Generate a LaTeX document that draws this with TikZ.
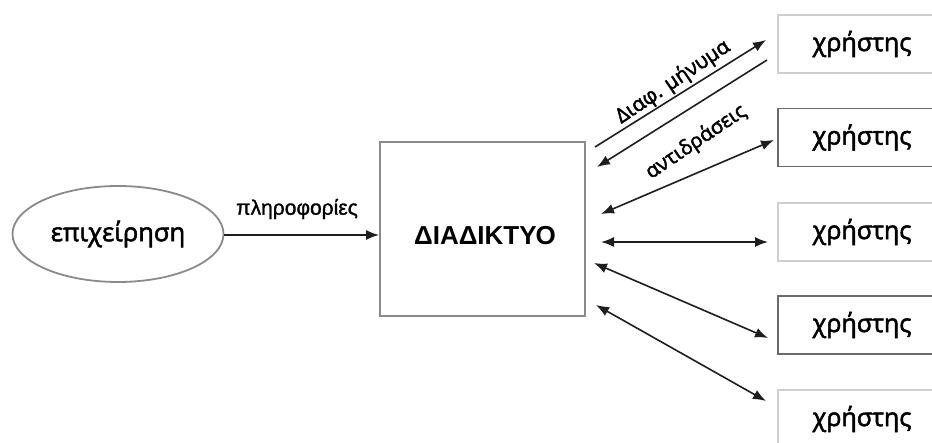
\documentclass[tikz,border=0pt]{standalone}
\usepackage{fontspec}
\setmainfont{Open Sans}[RawFeature={embolden=2.2}]
\newfontfamily\arialf{Liberation Sans}[RawFeature={embolden=1.2}]
\newfontfamily\arialb{Liberation Sans Bold}
\usetikzlibrary{arrows.meta,shapes.geometric}
\definecolor{linegray}{HTML}{8A8A8A}
\definecolor{lightbox}{HTML}{CFCFCF}
\definecolor{darkbox}{HTML}{6A6A6A}
\definecolor{arrowcol}{HTML}{1E1E1E}
\tikzset{
  userbox/.style={draw=#1, line width=1.8pt, minimum width=170pt, minimum height=58pt, inner sep=0pt},
  usertxt/.style={font=\fontsize{25}{27}\selectfont, text=black, inner sep=0pt},
  conn/.style={draw=arrowcol, line width=1.6pt},
  tip/.style={-{Latex[length=13pt,width=10pt]}},
  both/.style={{Latex[length=13pt,width=10pt]}-{Latex[length=13pt,width=10pt]}},
  lbl/.style={font=\fontsize{20.5}{22}\selectfont, text=black, inner sep=0pt}
}
\begin{document}
\begin{tikzpicture}[x=1pt,y=-1pt]
\clip (0,0) rectangle (932,443);
\fill[white] (0,0) rectangle (932,443);

\node[ellipse, draw=linegray, line width=1.8pt, minimum width=211pt, minimum height=96pt, inner sep=0pt,
      font=\fontsize{25.5}{27}\selectfont] (ell) at (118,234) {επιχείρηση};
\node[draw=linegray, line width=1.8pt, minimum width=205pt, minimum height=174pt, inner sep=0pt] (net) at (482.5,229) {};
\node[font=\arialb\fontsize{26}{28}\selectfont] (nettxt) at (485,236) {ΔΙΑΔΙΚΤΥΟ};

\node[userbox=lightbox] (u1) at (863,44) {};
\node[userbox=darkbox] (u2) at (863,137.5) {};
\node[userbox=lightbox] (u3) at (863,232) {};
\node[userbox=darkbox] (u4) at (863,325) {};
\node[userbox=lightbox] (u5) at (863,419) {};
\foreach \n/\y in {1/44,2/137.5,3/232,4/325,5/419}
  \node[usertxt] (t\n) at (862,\y) {χρήστης};

\draw[conn,tip] (ell.east |- 0,235) coordinate (e0) -- (e0 -| net.west);
\node[font=\arialf\fontsize{21}{23}\selectfont] (info) at (297,209) {πληροφορίες};

\coordinate (a1s) at (595,147); \coordinate (a1e) at (766,40);
\coordinate (a2s) at (767,60);  \coordinate (a2e) at (597,167);
\coordinate (a3s) at (601,214); \coordinate (a3e) at (774,140);
\coordinate (a4s) at (601,242); \coordinate (a4e) at (768,242);
\coordinate (a5s) at (594,263); \coordinate (a5e) at (768,338);
\coordinate (a6s) at (596,305); \coordinate (a6e) at (766,401);

\draw[conn,tip] (a1s) -- (a1e);
\draw[conn,tip] (a2s) -- (a2e);
\draw[conn,both] (a3s) -- (a3e);
\draw[conn,both] (a4s) -- (a4e);
\draw[conn,both] (a5s) -- (a5e);
\draw[conn,both] (a6s) -- (a6e);

\node[lbl, rotate=34] (l1) at (673,82) {Διαφ. μήνυμα};
\node[lbl, rotate=34] (l2) at (696,142) {αντιδράσεις};
\end{tikzpicture}
\end{document}
